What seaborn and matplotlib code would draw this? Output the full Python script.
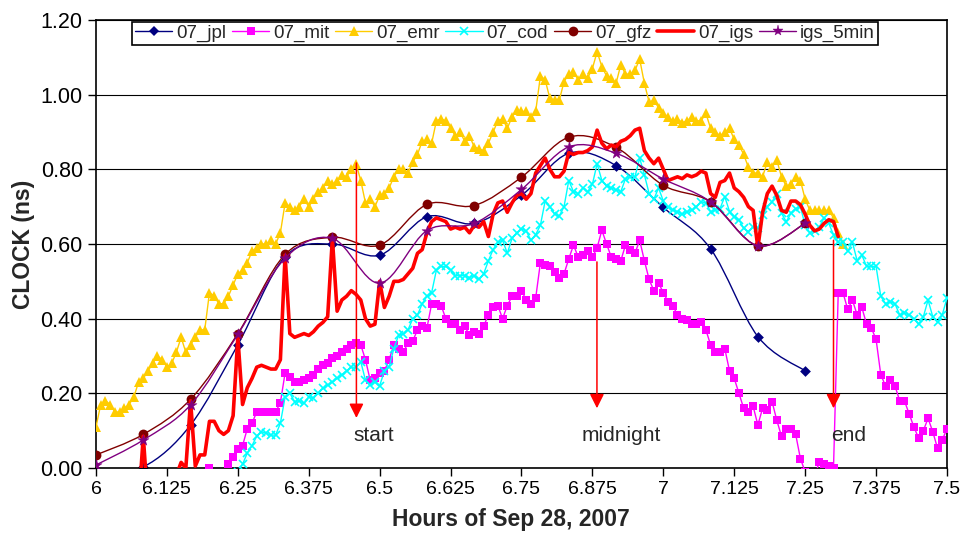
import numpy as np
import pandas as pd
import seaborn as sns
import matplotlib.pyplot as plt
from matplotlib.path import Path
from matplotlib.patches import PathPatch
from matplotlib.lines import Line2D

# 30 s series (hours = 6 + index * step)
step = 0.5 / 60

emr_start = 0
emr = [0.11, 0.17, 0.18, 0.17, 0.15, 0.15, 0.16, 0.17, 0.19, 0.23,
       0.24, 0.26, 0.28, 0.30, 0.29, 0.27, 0.28, 0.31, 0.35, 0.31,
       0.33, 0.35, 0.37, 0.37, 0.47, 0.46, 0.44, 0.44, 0.46, 0.49,
       0.52, 0.53, 0.55, 0.58, 0.59, 0.60, 0.60, 0.61, 0.60, 0.63,
       0.71, 0.70, 0.69, 0.70, 0.72, 0.70, 0.72, 0.74, 0.75, 0.77,
       0.76, 0.77, 0.785, 0.78, 0.80, 0.815, 0.77, 0.71, 0.72, 0.70,
       0.73, 0.735, 0.75, 0.78, 0.80, 0.80, 0.79, 0.82, 0.84, 0.875,
       0.88, 0.87, 0.93, 0.935, 0.93, 0.91, 0.89, 0.90, 0.875, 0.89,
       0.86, 0.855, 0.85, 0.87, 0.90, 0.93, 0.935, 0.91, 0.94, 0.96,
       0.955, 0.955, 0.94, 0.955, 1.05, 1.04, 0.99, 0.985, 0.985, 1.035,
       1.055, 1.06, 1.04, 1.055, 1.045, 1.07, 1.115, 1.075, 1.05, 1.045,
       1.03, 1.08, 1.055, 1.055, 1.065, 1.095, 1.03, 0.98, 0.985, 0.965,
       0.95, 0.94, 0.93, 0.935, 0.925, 0.93, 0.94, 0.93, 0.93, 0.95,
       0.91, 0.90, 0.89, 0.90, 0.91, 0.88, 0.865, 0.84, 0.805, 0.79,
       0.79, 0.78, 0.82, 0.805, 0.825, 0.78, 0.755, 0.76, 0.78, 0.77,
       0.72, 0.69, 0.69, 0.69, 0.69, 0.69, 0.67, 0.63, 0.60]

cod_start = 30
cod = [-0.01, 0.01, 0.04, 0.06, 0.085, 0.097, 0.093, 0.088, 0.088, 0.12,
       0.19, 0.20, 0.178, 0.18, 0.173, 0.19, 0.187, 0.20, 0.213, 0.222,
       0.23, 0.24, 0.25, 0.26, 0.27, 0.27, 0.285, 0.235, 0.222, 0.23,
       0.22, 0.26, 0.27, 0.32, 0.355, 0.36, 0.37, 0.40, 0.41, 0.44,
       0.46, 0.47, 0.53, 0.54, 0.54, 0.53, 0.515, 0.515, 0.515, 0.51,
       0.515, 0.505, 0.52, 0.555, 0.585, 0.605, 0.61, 0.575, 0.615, 0.63,
       0.64, 0.635, 0.61, 0.625, 0.65, 0.715, 0.70, 0.68, 0.675, 0.70,
       0.77, 0.74, 0.735, 0.75, 0.74, 0.76, 0.815, 0.77, 0.755, 0.75,
       0.745, 0.74, 0.775, 0.78, 0.78, 0.83, 0.785, 0.735, 0.72, 0.75,
       0.715, 0.70, 0.69, 0.687, 0.68, 0.687, 0.69, 0.70, 0.713, 0.71,
       0.687, 0.69, 0.695, 0.727, 0.687, 0.673, 0.664, 0.642, 0.633, 0.646,
       0.642, 0.678, 0.70, 0.713, 0.735, 0.682, 0.66, 0.682, 0.695, 0.70,
       0.65, 0.63, 0.635, 0.645, 0.67, 0.655, 0.625, 0.605, 0.605, 0.58,
       0.605, 0.555, 0.57, 0.54, 0.54, 0.54, 0.46, 0.44, 0.445, 0.44,
       0.41, 0.415, 0.41, 0.40, 0.385, 0.405, 0.45, 0.405, 0.39, 0.41,
       0.455]

mit_start = 22
mit = [-0.05, -0.02, 0.00, -0.03, -0.05, -0.02, 0.01, 0.03,
       0.05, 0.06, 0.105, 0.12, 0.15, 0.15, 0.15, 0.15, 0.15, 0.175,
       0.255, 0.245, 0.23, 0.23, 0.235, 0.24, 0.25, 0.265, 0.275, 0.28,
       0.295, 0.30, 0.31, 0.32, 0.33, 0.335, 0.33, 0.29, 0.235, 0.24,
       0.255, 0.26, 0.29, 0.33, 0.32, 0.31, 0.335, 0.34, 0.37, 0.38,
       0.375, 0.44, 0.44, 0.435, 0.40, 0.385, 0.385, 0.37, 0.38, 0.355,
       0.365, 0.36, 0.38, 0.41, 0.43, 0.435, 0.40, 0.435, 0.46, 0.46,
       0.475, 0.45, 0.44, 0.455, 0.55, 0.545, 0.54, 0.525, 0.51, 0.52,
       0.56, 0.597, 0.565, 0.57, 0.58, 0.565, 0.59, 0.637, 0.60, 0.565,
       0.56, 0.555, 0.597, 0.584, 0.575, 0.61, 0.555, 0.505, 0.475, 0.495,
       0.47, 0.445, 0.435, 0.41, 0.40, 0.396, 0.385, 0.385, 0.39, 0.37,
       0.33, 0.31, 0.31, 0.32, 0.26, 0.24, 0.20, 0.16, 0.15, 0.165,
       0.115, 0.16, 0.155, 0.178, 0.128, 0.085, 0.105, 0.105, 0.09, 0.025,
       -0.01, -0.03, -0.02, 0.015, 0.012, 0.005, 0.0, 0.47, 0.47, 0.425,
       0.45, 0.41, 0.43, 0.385, 0.375, 0.345, 0.25, 0.22, 0.235, 0.22,
       0.18, 0.18, 0.145, 0.11, 0.08, 0.10, 0.133, 0.097, 0.053, 0.075,
       0.105]

igs_start = 0
igs = [0.01, -0.1, -0.1, -0.1, -0.1, -0.1, -0.1, -0.1, -0.1, -0.1,
       0.085, -0.1, -0.1, -0.1, -0.1, -0.1, -0.1, -0.02, 0.015, 0.0,
       0.18, 0.005, 0.035, 0.035, 0.125, 0.125, 0.10, 0.09, 0.10, 0.14,
       0.35, 0.17, 0.215, 0.24, 0.27, 0.275, 0.27, 0.265, 0.265, 0.29,
       0.57, 0.36, 0.35, 0.355, 0.36, 0.355, 0.365, 0.38, 0.39, 0.405,
       0.615, 0.42, 0.45, 0.46, 0.475, 0.465, 0.45, 0.40, 0.38, 0.385,
       0.50, 0.43, 0.46, 0.50, 0.50, 0.505, 0.52, 0.535, 0.575, 0.585,
       0.63, 0.66, 0.67, 0.665, 0.66, 0.64, 0.645, 0.64, 0.645, 0.63,
       0.65, 0.645, 0.66, 0.62, 0.68, 0.71, 0.715, 0.685, 0.71, 0.73,
       0.735, 0.72, 0.735, 0.79, 0.81, 0.83, 0.80, 0.78, 0.78, 0.795,
       0.845, 0.84, 0.845, 0.845, 0.85, 0.86, 0.905, 0.87, 0.855, 0.865,
       0.86, 0.875, 0.88, 0.89, 0.905, 0.91, 0.85, 0.83, 0.815, 0.83,
       0.80, 0.77, 0.775, 0.78, 0.775, 0.785, 0.78, 0.785, 0.795, 0.79,
       0.735, 0.725, 0.765, 0.77, 0.79, 0.75, 0.74, 0.725, 0.70, 0.69,
       0.59, 0.685, 0.735, 0.755, 0.73, 0.69, 0.685, 0.715, 0.715, 0.705,
       0.68, 0.65, 0.635, 0.64, 0.655, 0.665, 0.66, 0.62]

# 5 min solutions, 6:00 .. 7:15
hours_5min = 6 + np.arange(16) / 12
jpl = [-0.01, 0.003, 0.115, 0.33, 0.566, 0.60, 0.57, 0.673, 0.655, 0.73,
       0.843, 0.81, 0.698, 0.587, 0.352, 0.26]
gfz = [0.035, 0.09, 0.184, 0.36, 0.572, 0.618, 0.597, 0.706, 0.703, 0.779,
       0.886, 0.859, 0.757, 0.713, 0.595, 0.655]
igs_5min = [0.008, 0.075, 0.169, 0.358, 0.562, 0.615, 0.495, 0.636, 0.655, 0.746,
            0.86, 0.843, 0.774, 0.713, 0.595, 0.655]

x_ticks = [6, 6.125, 6.25, 6.375, 6.5, 6.625, 6.75, 6.875, 7, 7.125, 7.25, 7.375, 7.5]
x_labels = ["6", "6.125", "6.25", "6.375", "6.5", "6.625", "6.75", "6.875",
            "7", "7.125", "7.25", "7.375", "7.5"]
y_ticks = [0, 0.2, 0.4, 0.6, 0.8, 1.0, 1.2]

# event arrows
events = ["start", "midnight", "end"]
event_x = [6.459, 6.883, 7.300]
event_top = [0.817, 0.552, 0.61]
event_tip = [0.134, 0.16, 0.16]
event_text_x = [6.49, 6.925, 7.327]
event_text_y = 0.088


def hours(start, vals):
    return 6 + (start + np.arange(len(vals))) * step


def smooth(x, y):
    # excel style smoothed line (catmull-rom as bezier)
    p = np.column_stack([x, y])
    n = len(p)
    verts = [p[0]]
    codes = [Path.MOVETO]
    for i in range(n - 1):
        p0 = p[max(i - 1, 0)]
        p3 = p[min(i + 2, n - 1)]
        verts += [p[i] + (p[i + 1] - p0) / 6, p[i + 1] - (p3 - p[i]) / 6, p[i + 1]]
        codes += [Path.CURVE4] * 3
    return Path(verts, codes)


sns.set_style("ticks")
plt.rcParams["font.family"] = ["Liberation Sans", "DejaVu Sans"]

fig = plt.figure(figsize=(9.61, 5.36), dpi=100)
ax = fig.add_axes([0.0999, 0.1269, 0.8855, 0.8358])

ax.set_xlim(6, 7.5)
ax.set_ylim(0, 1.2)
ax.yaxis.grid(True, color="black", lw=0.8)
ax.set_axisbelow(True)

# jpl
ax.add_patch(PathPatch(smooth(hours_5min, jpl), fill=False, ec="#000080", lw=1.0, zorder=2))
sns.scatterplot(x=hours_5min, y=jpl, ax=ax, marker="D", s=30, color="#000080", linewidth=0, zorder=2.1)

sns.lineplot(x=hours(mit_start, mit), y=mit, ax=ax, color="#FF00FF", lw=1.0, marker="s",
             markersize=6, markeredgewidth=0, markeredgecolor="#FF00FF",
             sort=False, estimator=None, zorder=3)
sns.lineplot(x=hours(emr_start, emr), y=emr, ax=ax, color="#FFCC00", lw=1.0, marker="^",
             markersize=7.5, markeredgewidth=0, markeredgecolor="#FFCC00",
             sort=False, estimator=None, zorder=4)
sns.lineplot(x=hours(cod_start, cod), y=cod, ax=ax, color="#00FFFF", lw=1.0, marker="x",
             markersize=6, markeredgewidth=1.2, markeredgecolor="#00FFFF",
             sort=False, estimator=None, zorder=5)

# gfz
ax.add_patch(PathPatch(smooth(hours_5min, gfz), fill=False, ec="#800000", lw=1.0, zorder=6))
sns.scatterplot(x=hours_5min, y=gfz, ax=ax, marker="o", s=50, color="#800000", linewidth=0, zorder=6.1)

sns.lineplot(x=hours(igs_start, igs), y=igs, ax=ax, color="#FF0000", lw=2.6,
             sort=False, estimator=None, zorder=7)

# igs 5 min
ax.add_patch(PathPatch(smooth(hours_5min, igs_5min), fill=False, ec="#800080", lw=1.0, zorder=8))
sns.scatterplot(x=hours_5min, y=igs_5min, ax=ax, marker="*", s=70, color="#800080",
                linewidth=0.3, edgecolor="#800080", zorder=8.1)

for name, x, top, tip, tx in zip(events, event_x, event_top, event_tip, event_text_x):
    ax.annotate("", xy=(x, tip), xytext=(x, top), zorder=10,
                arrowprops=dict(arrowstyle="-|>,head_length=0.86,head_width=0.43",
                                color="red", lw=1.1, shrinkA=0, shrinkB=0))
    ax.text(tx, event_text_y, name, ha="center", va="center", fontsize=15, zorder=10)

ax.set_xticks(x_ticks)
ax.set_xticklabels(x_labels)
ax.set_yticks(y_ticks)
ax.set_yticklabels(["%.2f" % v for v in y_ticks])
ax.tick_params(axis="both", direction="out", length=6, width=1, color="black",
               labelsize=14, labelcolor="black")
ax.tick_params(axis="y", labelsize=15.5)
for s in ax.spines.values():
    s.set_color("black")
    s.set_linewidth(1.2)

ax.set_xlabel("Hours of Sep 28, 2007", fontsize=16.5, fontweight="bold", labelpad=7)
ax.xaxis.label.set_x(0.488)
ax.set_ylabel("CLOCK (ns)", fontsize=16.5, fontweight="bold", labelpad=4)

handles = [
    Line2D([], [], color="#000080", lw=1.0, marker="D", markersize=5, markeredgewidth=0),
    Line2D([], [], color="#FF00FF", lw=1.0, marker="s", markersize=6, markeredgewidth=0),
    Line2D([], [], color="#FFCC00", lw=1.0, marker="^", markersize=7.5, markeredgewidth=0),
    Line2D([], [], color="#00FFFF", lw=1.0, marker="x", markersize=6, markeredgewidth=1.2),
    Line2D([], [], color="#800000", lw=1.0, marker="o", markersize=7, markeredgewidth=0),
    Line2D([], [], color="#FF0000", lw=2.6),
    Line2D([], [], color="#800080", lw=1.0, marker="*", markersize=8, markeredgewidth=0.3),
]
names = ["07_jpl", "07_mit", "07_emr", "07_cod", "07_gfz", "07_igs", "igs_5min"]
leg = ax.legend(handles, names, loc="upper center", bbox_to_anchor=(0.4806, 0.996), ncol=7,
                fontsize=13.5, frameon=True, fancybox=False, framealpha=1, edgecolor="black",
                handlelength=2.0, handletextpad=0.2, columnspacing=0.3, borderpad=0.15,
                borderaxespad=0)
leg.get_frame().set_linewidth(1.2)
leg.set_zorder(20)

fig.savefig("out.png", dpi=100)
